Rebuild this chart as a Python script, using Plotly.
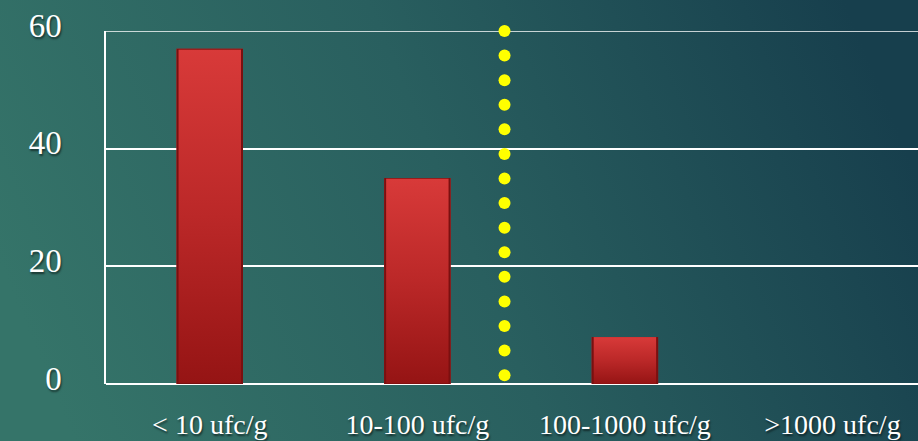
import base64
import numpy as np
import plotly.graph_objects as go

# Colony counts per contamination range
categories = ["< 10 ufc/g", "10-100 ufc/g", "100-1000 ufc/g", ">1000 ufc/g"]
values = [57, 35, 8, 0]
y_ticks = [0, 20, 40, 60]

# Threshold marker drawn between the 2nd and 3rd category
threshold_x = 1.42
threshold_top = 60
threshold_bottom = 1.5
threshold_dots = 15

BAR_WIDTH = 0.32
FONT = "Liberation Serif"
TEXT_SHADOW = "1px 2px 2px rgba(0,0,0,0.55)"

W, H = 918, 441
M = dict(l=106, r=0, t=31, b=57)
PLOT_W = W - M["l"] - M["r"]
PLOT_H = H - M["t"] - M["b"]


def svg_uri(svg):
    return "data:image/svg+xml;base64," + base64.b64encode(svg.encode()).decode()


background_svg = svg_uri(
    f'<svg xmlns="http://www.w3.org/2000/svg" width="{W}" height="{H}" preserveAspectRatio="none">'
    '<defs><linearGradient id="g" x1="0" y1="0.6" x2="1" y2="0.4">'
    '<stop offset="0" stop-color="#357469"/>'
    '<stop offset="0.5" stop-color="#295f5f"/>'
    '<stop offset="1" stop-color="#173f4d"/>'
    '</linearGradient></defs>'
    f'<rect width="{W}" height="{H}" fill="url(#g)"/></svg>'
)

bar_svg = svg_uri(
    '<svg xmlns="http://www.w3.org/2000/svg" width="10" height="100" preserveAspectRatio="none">'
    '<defs><linearGradient id="b" x1="0" y1="0" x2="0" y2="1">'
    '<stop offset="0" stop-color="#d83a39"/>'
    '<stop offset="0.5" stop-color="#bb2828"/>'
    '<stop offset="1" stop-color="#951414"/>'
    '</linearGradient></defs>'
    '<rect width="10" height="100" fill="url(#b)" stroke="#7a1010" stroke-width="0.6"/></svg>'
)

fig = go.Figure()

fig.add_trace(go.Bar(
    x=list(range(len(categories))),
    y=values,
    width=BAR_WIDTH,
    marker=dict(color="#bb2828", line=dict(width=0)),
    showlegend=False,
))

dot_y = np.linspace(threshold_top, threshold_bottom, threshold_dots)
fig.add_trace(go.Scatter(
    x=[threshold_x] * threshold_dots,
    y=dot_y,
    mode="markers",
    marker=dict(color="#ffff00", size=12, line=dict(width=0)),
    showlegend=False,
    cliponaxis=False,
))

# Full-page gradient backdrop, expressed in paper coordinates
images = [dict(
    source=background_svg, xref="paper", yref="paper",
    x=-M["l"] / PLOT_W, y=1 + M["t"] / PLOT_H,
    sizex=W / PLOT_W, sizey=H / PLOT_H,
    xanchor="left", yanchor="top", sizing="stretch", layer="below",
)]
# Gradient fill laid over each bar, sized from its value
for i, v in enumerate(values):
    if v > 0:
        images.append(dict(
            source=bar_svg, xref="x", yref="y",
            x=i - BAR_WIDTH / 2, y=v, sizex=BAR_WIDTH, sizey=v,
            xanchor="left", yanchor="top", sizing="stretch", layer="above",
        ))

# Top gridline at the axis maximum
shapes = [dict(
    type="line", xref="paper", yref="y", x0=0, x1=1,
    y0=y_ticks[-1], y1=y_ticks[-1],
    line=dict(color="white", width=1.5), layer="below",
)]

fig.update_layout(
    width=W, height=H,
    margin=M,
    paper_bgcolor="#295f5f",
    plot_bgcolor="rgba(0,0,0,0)",
    images=images,
    shapes=shapes,
    font=dict(family=FONT, color="white", size=24, shadow=TEXT_SHADOW),
    xaxis=dict(
        range=[-0.5, 3.412],
        tickmode="array",
        tickvals=list(range(len(categories))),
        ticktext=categories,
        showgrid=False,
        zeroline=False,
        showline=False,
        ticks="",
        automargin=False,
        ticklabelstandoff=21,
        tickfont=dict(family=FONT, size=28, color="white", shadow=TEXT_SHADOW),
    ),
    yaxis=dict(
        range=[0, 60],
        tickmode="array",
        tickvals=y_ticks,
        showgrid=True,
        gridcolor="white",
        gridwidth=1.5,
        zeroline=True,
        zerolinecolor="white",
        zerolinewidth=1.5,
        showline=True,
        linecolor="white",
        linewidth=1.5,
        ticks="",
        automargin=False,
        ticklabelstandoff=36,
        ticklabelshift=-6,
        tickfont=dict(family=FONT, size=33, color="white", shadow=TEXT_SHADOW),
    ),
)

fig.write_html("out.html")
